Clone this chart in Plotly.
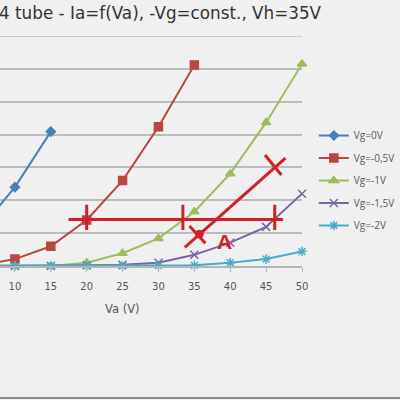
import plotly.graph_objects as go

# ---- data ----
va = [0, 5, 10, 15, 20, 25, 30, 35, 40, 45, 50]
ia_vg0 = [0.30, 1.08, 2.40, 4.09]
ia_vg05 = [0.0, 0.02, 0.21, 0.60, 1.40, 2.60, 4.24, 6.12]
ia_vg1 = [0.0, 0.0, 0.0, 0.0, 0.10, 0.39, 0.84, 1.65, 2.81, 4.37, 6.15]
ia_vg15 = [0.0, 0.0, 0.0, 0.0, 0.02, 0.04, 0.10, 0.34, 0.71, 1.19, 2.20]
ia_vg2 = [0.0, 0.0, 0.0, 0.0, 0.0, 0.0, 0.01, 0.02, 0.10, 0.21, 0.44]
names = ["Vg=0V", "Vg=-0,5V", "Vg=-1V", "Vg=-1,5V", "Vg=-2V"]
x_ticks = [10, 15, 20, 25, 30, 35, 40, 45, 50]
y_grid = [1, 2, 3, 4, 5, 6, 7]

# hand-drawn construction (in data coords)
hline_va = [17.47, 47.37]
hline_ia = 1.415
cross_va = [20.0, 33.4, 46.2]
diag_va = [33.67, 47.69]
diag_ia = [0.57, 3.28]
op_point = (35.7, 0.97)
x_upper = ([44.84, 47.13], [3.38, 2.77])
x_lower = ([34.32, 36.53], [1.22, 0.69])
label_a = (39.2, 0.74)

series = [ia_vg0, ia_vg05, ia_vg1, ia_vg15, ia_vg2]
colors = ["#4a7ebb", "#b9463f", "#9dbd5a", "#7a66a0", "#4aacc6"]
symbols = ["diamond", "square", "triangle-up", "x-thin-open", "asterisk-open"]
sizes = [7, 8, 8, 8, 8]

fig = go.Figure()
for i, (ys, nm) in enumerate(zip(series, names)):
    fig.add_trace(go.Scatter(
        x=va[:len(ys)], y=ys, name=nm, mode="lines+markers",
        line=dict(color=colors[i], width=2),
        marker=dict(symbol=symbols[i], size=sizes[i], color=colors[i],
                    line=dict(color=colors[i], width=1.5)),
        legendgroup=nm, cliponaxis=False))

RED = "#d0202a"
shapes = []
# top gridline (at range edge)
shapes.append(dict(type="line", xref="paper", yref="y", x0=0, x1=1, y0=y_grid[-1], y1=y_grid[-1],
                   layer="below", line=dict(color="#bcbcbc", width=1.5)))
shapes.append(dict(type="line", x0=hline_va[0], x1=hline_va[1], y0=hline_ia, y1=hline_ia,
                   line=dict(color=RED, width=3)))
for cx in cross_va:
    shapes.append(dict(type="line", x0=cx, x1=cx, y0=hline_ia - 0.32, y1=hline_ia + 0.45,
                       line=dict(color=RED, width=3)))
shapes.append(dict(type="line", x0=diag_va[0], x1=diag_va[1], y0=diag_ia[0], y1=diag_ia[1],
                   line=dict(color=RED, width=3)))
shapes.append(dict(type="line", x0=x_upper[0][0], x1=x_upper[0][1], y0=x_upper[1][0], y1=x_upper[1][1],
                   line=dict(color=RED, width=3)))
shapes.append(dict(type="line", x0=x_lower[0][0], x1=x_lower[0][1], y0=x_lower[1][0], y1=x_lower[1][1],
                   line=dict(color=RED, width=3)))
shapes.append(dict(type="circle", xref="x", yref="y", x0=op_point[0] - 0.55, x1=op_point[0] + 0.55,
                   y0=op_point[1] - 0.12, y1=op_point[1] + 0.12,
                   fillcolor=RED, line=dict(color=RED, width=1)))
shapes.append(dict(type="line", xref="paper", yref="paper", x0=-0.1, x1=1.4,
                   y0=-132 / 230, y1=-132 / 230, line=dict(color="#8a8a8a", width=2)))
fig.update_layout(shapes=shapes)

fig.add_annotation(x=label_a[0], y=label_a[1], text="<b>A</b>", showarrow=False,
                   font=dict(family="Liberation Sans", size=21, color=RED))
fig.add_annotation(xref="paper", yref="paper", x=-3 / 306, y=(266 - 13) / 230,
                   xanchor="left", yanchor="middle", showarrow=False,
                   text="4 tube - Ia=f(Va), -Vg=const., Vh=35V",
                   font=dict(family="DejaVu Sans", size=16.8, color="#333333"))
fig.add_annotation(xref="paper", yref="paper", x=124 / 306, y=(266 - 309) / 230,
                   xanchor="center", yanchor="middle", showarrow=False,
                   text="Va (V)", font=dict(family="DejaVu Sans", size=11.5, color="#555555"))

fig.update_layout(
    width=400, height=400,
    margin=dict(l=0, r=94, t=36, b=134, pad=0),
    paper_bgcolor="#f0f0f0", plot_bgcolor="#f0f0f0",
    showlegend=True,
    legend=dict(x=318 / 306, y=(266 - 121) / 230, xanchor="left", yanchor="top",
                bgcolor="rgba(0,0,0,0)", font=dict(family="Open Sans", size=10, color="#595959"),
                traceorder="grouped", tracegroupgap=3.5),
    xaxis=dict(range=[7.92, 50.0], tickvals=x_ticks, ticktext=[str(t) for t in x_ticks],
               showgrid=False, zeroline=False, showline=True, linecolor="#b5b5b5", linewidth=1.5,
               ticks="outside", ticklen=4, tickcolor="#b5b5b5", ticklabelstandoff=6,
               tickfont=dict(family="DejaVu Sans", size=10, color="#555555")),
    yaxis=dict(range=[0, 7.0], tickvals=y_grid[:-1], showgrid=True,
               gridcolor="#bcbcbc", gridwidth=1.5,
               zeroline=False, showticklabels=False, showline=False),
)

fig.write_html("out.html")
